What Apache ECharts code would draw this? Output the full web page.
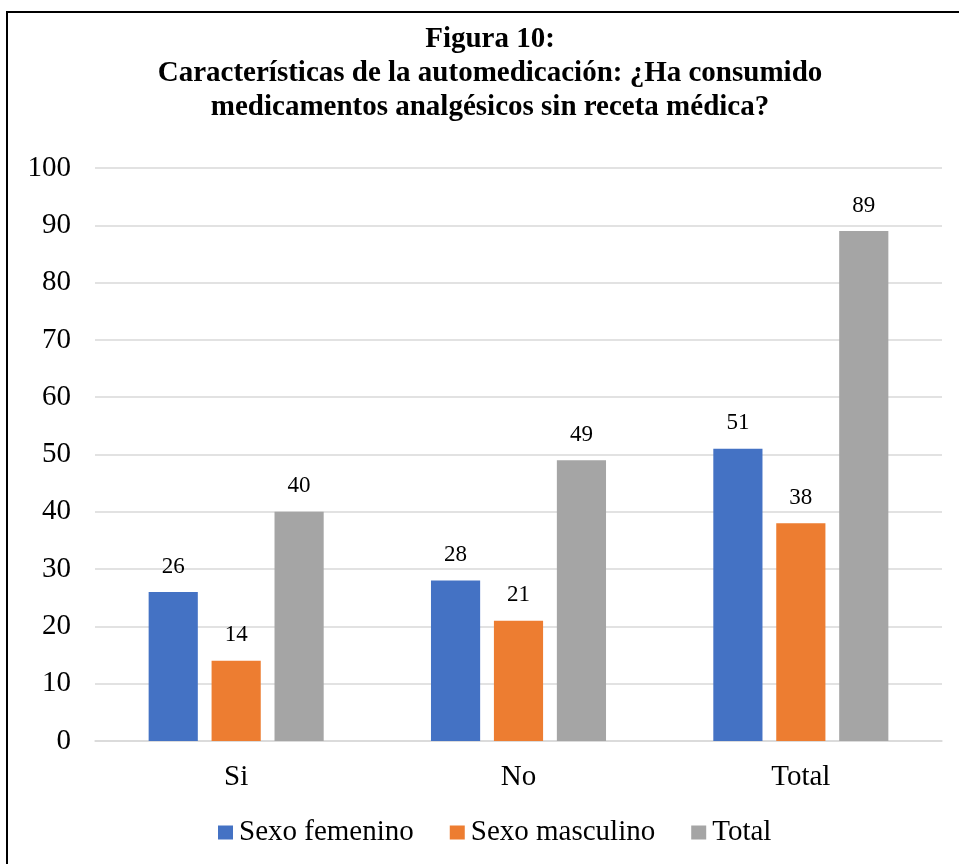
<!DOCTYPE html>
<html>
<head>
<meta charset="utf-8">
<script src="https://cdn.jsdelivr.net/npm/echarts@6/dist/echarts.min.js"></script>
<style>
  html, body { margin: 0; padding: 0; background: #fff; }
</style>
</head>
<body>
<div id="main" style="width: 959px; height: 864px;"></div>
<script type="text/javascript">
    var categorias = ['Si', 'No', 'Total'];
    var femenino = [26, 28, 51];
    var masculino = [14, 21, 38];
    var total = [40, 49, 89];

    var serif = '"Liberation Serif", "Times New Roman", serif';
    var myChart = echarts.init(document.getElementById('main'));

    function serie(nombre, datos, color) {
        return {
            name: nombre,
            type: 'bar',
            data: datos,
            barGap: '28%',
            barCategoryGap: '38%',
            itemStyle: { color: color },
            label: {
                show: true,
                position: 'top',
                distance: 14,
                color: '#000',
                fontFamily: serif,
                fontSize: 23
            }
        };
    }

    var option = {
        animation: false,
        graphic: [{
            type: 'rect',
            shape: { x: 7, y: 12, width: 1000, height: 900 },
            style: { fill: 'none', stroke: '#000', lineWidth: 2 },
            silent: true
        }],
        title: {
            text: 'Figura 10:\nCaracterísticas de la automedicación: ¿Ha consumido\nmedicamentos analgésicos sin receta médica?',
            left: 485,
            top: 18,
            textAlign: 'center',
            textStyle: {
                fontFamily: serif,
                fontWeight: 'bold',
                fontSize: 29,
                lineHeight: 34,
                color: '#000'
            }
        },
        legend: {
            top: 818,
            left: 218,
            padding: 0,
            itemWidth: 15,
            itemHeight: 14,
            itemGap: 36,
            icon: 'rect',
            data: ['Sexo femenino', 'Sexo masculino', 'Total'],
            textStyle: { fontFamily: serif, fontSize: 29, color: '#000', padding: [0, 0, 0, 1] }
        },
        grid: { left: 95, right: 17, top: 168, bottom: 123, containLabel: false },
        xAxis: {
            type: 'category',
            data: categorias,
            axisTick: { show: false },
            axisLine: { lineStyle: { color: '#d9d9d9', width: 1.5 } },
            axisLabel: { fontFamily: serif, fontSize: 29, color: '#000', margin: 22 }
        },
        yAxis: {
            type: 'value',
            min: 0,
            max: 100,
            interval: 10,
            axisLine: { show: false },
            axisTick: { show: false },
            splitLine: { lineStyle: { color: '#d9d9d9', width: 1.5 } },
            axisLabel: { fontFamily: serif, fontSize: 29, color: '#000', margin: 24 }
        },
        series: [
            serie('Sexo femenino', femenino, '#4472c4'),
            serie('Sexo masculino', masculino, '#ed7d31'),
            serie('Total', total, '#a5a5a5')
        ]
    };
    myChart.setOption(option);
</script>
</body>
</html>
